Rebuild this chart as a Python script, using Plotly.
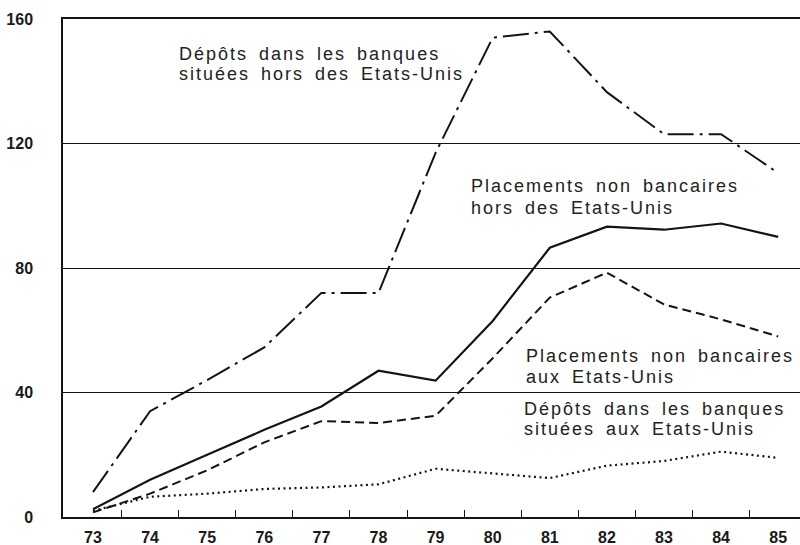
import plotly.graph_objects as go

years = [73, 74, 75, 76, 77, 78, 79, 80, 81, 82, 83, 84, 85]
year_labels = [str(y) for y in years]

# Dépôts dans les banques situées hors des Etats-Unis
depots_hors = [8, 34, 44, 54.5, 72, 72, 117, 154, 156, 136.5, 123, 123, 110.5]
# Placements non bancaires hors des Etats-Unis
placements_hors = [2.5, 12, 20, 28, 35.5, 47, 43.8, 63, 86.5, 93.3, 92.3, 94.3, 90]
# Placements non bancaires aux Etats-Unis
placements_aux = [1.5, 7.5, 15, 24, 30.8, 30.2, 32.5, 51, 70.5, 78.5, 68.3, 63.5, 58]
# Dépôts dans les banques situées aux Etats-Unis
depots_aux = [2, 6.5, 7.5, 9, 9.5, 10.5, 15.5, 14, 12.5, 16.5, 18, 21, 19]

y_ticks = [0, 40, 80, 120, 160]
tick_between = [y + 0.5 for y in years[:-1]]

INK = "#141414"
fig = go.Figure()

def add(vals, dash, width=2.0):
    fig.add_trace(go.Scatter(
        x=years, y=vals, mode="lines",
        line=dict(color=INK, width=width, dash=dash),
        showlegend=False, hoverinfo="skip"))

add(depots_hors, "26px,6px,3px,6px")
add(placements_hors, "solid", 2.2)
add(placements_aux, "9px,5px")
add(depots_aux, "2px,3.5px", 2.2)

TXT = dict(family="Liberation Sans, Arial, sans-serif", size=18, color="#222222")
STYLE = "letter-spacing:2px;word-spacing:4px"

labels = [
    ("Dépôts dans les banques", 74.489, 148.8),
    ("situées hors des Etats-Unis", 74.489, 142.4),
    ("Placements non bancaires", 79.602, 106.2),
    ("hors des Etats-Unis", 79.602, 99.3),
    ("Placements non bancaires", 80.566, 51.7),
    ("aux Etats-Unis", 80.566, 45.0),
    ("Dépôts dans les banques", 80.531, 34.6),
    ("situées aux Etats-Unis", 80.531, 28.2),
]
for text, x, y in labels:
    fig.add_annotation(
        x=x, y=y, xref="x", yref="y",
        text=f"<span style='{STYLE}'>{text}</span>",
        showarrow=False, xanchor="left", yanchor="middle",
        borderpad=0, font=TXT)

TICKFONT = dict(family="Liberation Sans, Arial, sans-serif", size=16,
                color="#1a1a1a", weight="bold")

fig.update_layout(
    template="none",
    width=800, height=545,
    margin=dict(l=63, r=0, t=19, b=28),
    plot_bgcolor="white", paper_bgcolor="white",
    xaxis=dict(
        automargin=False,
        range=[72.475, 85.382],
        tickmode="array", tickvals=years, ticktext=year_labels,
        ticks="", showgrid=False, zeroline=False,
        showline=True, linecolor=INK, linewidth=1.5, mirror=True,
        tickfont=TICKFONT, ticklabelstandoff=5,
        minor=dict(tickmode="array", tickvals=tick_between,
                   ticks="inside", ticklen=7, tickwidth=1.3,
                   tickcolor=INK, showgrid=False),
    ),
    yaxis=dict(
        automargin=False,
        range=[0, 160],
        tickmode="array", tickvals=y_ticks,
        ticks="", showgrid=True, gridcolor=INK, gridwidth=1.4,
        zeroline=False, showline=True, linecolor=INK, linewidth=1.5,
        tickfont=TICKFONT, ticklabelstandoff=25,
    ),
)

fig.write_html(
    "out.html",
    config={"displayModeBar": False},
    post_script="document.body.style.margin='0';document.body.style.overflow='hidden';",
)
